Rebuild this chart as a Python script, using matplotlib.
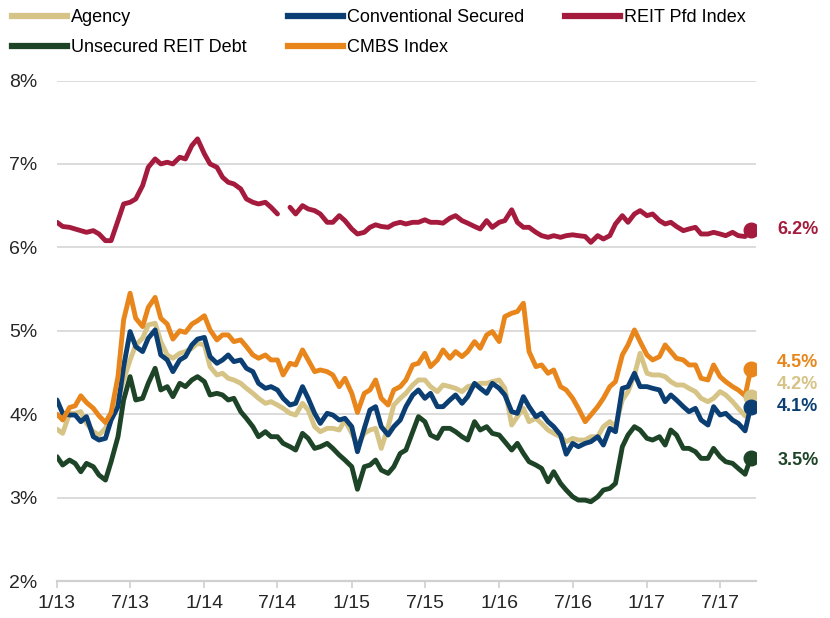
import matplotlib.pyplot as plt
import matplotlib.dates as mdates
from matplotlib.lines import Line2D
import numpy as np
import pandas as pd

plt.rcParams['font.family'] = ['Liberation Sans', 'DejaVu Sans']

# semi-monthly observations, 1/1/2013 .. 9/15/2017
dates = pd.date_range('2013-01-01', '2017-09-15', freq='SMS')

agency = [
    3.82, 3.77, 4.01, 4.01, 4.03, 3.89, 3.79, 3.75, 3.83, 4.01,
    4.17, 4.41, 4.65, 4.83, 4.91, 5.07, 5.09, 4.87, 4.71, 4.67,
    4.73, 4.75, 4.79, 4.85, 4.83, 4.57, 4.47, 4.49, 4.43, 4.41,
    4.37, 4.31, 4.25, 4.19, 4.13, 4.15, 4.11, 4.07, 4.01, 3.99,
    4.13, 4.05, 3.85, 3.79, 3.83, 3.83, 3.81, 3.93, 3.77, 3.63,
    3.77, 3.81, 3.83, 3.59, 3.85, 4.11, 4.19, 4.25, 4.35, 4.41,
    4.41, 4.33, 4.27, 4.35, 4.33, 4.31, 4.27, 4.33, 4.35, 4.37,
    4.37, 4.39, 4.41, 4.31, 3.87, 3.97, 4.07, 3.91, 3.95, 3.89,
    3.81, 3.77, 3.73, 3.67, 3.71, 3.69, 3.69, 3.73, 3.73, 3.85,
    3.91, 3.85, 4.17, 4.27, 4.47, 4.73, 4.49, 4.47, 4.47, 4.45,
    4.39, 4.35, 4.35, 4.31, 4.27, 4.19, 4.15, 4.19, 4.27, 4.23,
    4.15, 4.07, 3.98, 4.21,
]
conventional = [
    4.17, 4.01, 3.99, 3.99, 3.91, 3.97, 3.73, 3.69, 3.71, 3.93,
    4.09, 4.57, 4.99, 4.81, 4.75, 4.91, 5.01, 4.71, 4.65, 4.51,
    4.65, 4.69, 4.83, 4.90, 4.92, 4.69, 4.61, 4.65, 4.71, 4.63,
    4.65, 4.55, 4.51, 4.37, 4.31, 4.33, 4.29, 4.19, 4.11, 4.13,
    4.33, 4.19, 4.01, 3.89, 4.01, 3.99, 3.93, 3.95, 3.85, 3.55,
    3.83, 4.05, 4.09, 3.85, 3.75, 3.85, 3.93, 4.09, 4.23, 4.29,
    4.19, 4.25, 4.09, 4.09, 4.17, 4.23, 4.13, 4.21, 4.37, 4.31,
    4.25, 4.37, 4.31, 4.23, 4.03, 4.01, 4.21, 4.09, 3.97, 4.01,
    3.91, 3.85, 3.75, 3.52, 3.65, 3.61, 3.65, 3.67, 3.73, 3.63,
    3.83, 3.79, 4.31, 4.33, 4.49, 4.33, 4.33, 4.31, 4.29, 4.15,
    4.23, 4.17, 4.09, 4.03, 4.07, 3.93, 3.87, 4.09, 3.99, 4.01,
    3.93, 3.89, 3.80, 4.09,
]
reit_pfd = [
    6.30, 6.25, 6.24, 6.22, 6.20, 6.18, 6.20, 6.16, 6.08, 6.08,
    6.32, 6.52, 6.54, 6.58, 6.74, 6.96, 7.06, 7.00, 7.02, 7.00,
    7.08, 7.06, 7.22, 7.30, 7.12, 7.00, 6.96, 6.84, 6.78, 6.76,
    6.70, 6.58, 6.54, 6.52, 6.54, 6.48, 6.40, np.nan, 6.48, 6.40,
    6.50, 6.46, 6.44, 6.40, 6.30, 6.30, 6.38, 6.32, 6.22, 6.16,
    6.18, 6.24, 6.27, 6.25, 6.24, 6.28, 6.30, 6.28, 6.30, 6.30,
    6.33, 6.30, 6.30, 6.29, 6.35, 6.38, 6.32, 6.29, 6.25, 6.22,
    6.32, 6.24, 6.30, 6.32, 6.45, 6.30, 6.24, 6.24, 6.18, 6.14,
    6.12, 6.14, 6.12, 6.14, 6.15, 6.14, 6.13, 6.06, 6.14, 6.10,
    6.14, 6.28, 6.38, 6.30, 6.40, 6.44, 6.38, 6.40, 6.32, 6.28,
    6.30, 6.25, 6.20, 6.22, 6.24, 6.16, 6.16, 6.18, 6.16, 6.14,
    6.18, 6.14, 6.13, 6.21,
]
unsecured = [
    3.49, 3.39, 3.45, 3.41, 3.31, 3.41, 3.37, 3.27, 3.21, 3.43,
    3.73, 4.17, 4.45, 4.17, 4.19, 4.37, 4.55, 4.29, 4.33, 4.21,
    4.37, 4.33, 4.41, 4.45, 4.39, 4.23, 4.25, 4.23, 4.17, 4.19,
    4.03, 3.95, 3.85, 3.73, 3.79, 3.73, 3.73, 3.65, 3.61, 3.57,
    3.77, 3.71, 3.59, 3.61, 3.65, 3.59, 3.51, 3.45, 3.37, 3.10,
    3.37, 3.39, 3.45, 3.33, 3.29, 3.37, 3.53, 3.57, 3.79, 3.97,
    3.91, 3.75, 3.71, 3.83, 3.83, 3.79, 3.73, 3.69, 3.91, 3.81,
    3.85, 3.77, 3.75, 3.67, 3.57, 3.65, 3.53, 3.43, 3.39, 3.35,
    3.19, 3.31, 3.17, 3.09, 3.01, 2.97, 2.97, 2.95, 3.01, 3.09,
    3.11, 3.17, 3.61, 3.75, 3.85, 3.81, 3.71, 3.69, 3.73, 3.63,
    3.81, 3.75, 3.59, 3.59, 3.55, 3.47, 3.47, 3.59, 3.49, 3.43,
    3.41, 3.35, 3.28, 3.48,
]
cmbs = [
    4.00, 3.93, 4.08, 4.10, 4.22, 4.14, 4.07, 3.98, 3.90, 4.02,
    4.45, 5.13, 5.45, 5.15, 5.05, 5.28, 5.40, 5.15, 5.08, 4.90,
    5.00, 4.98, 5.08, 5.12, 5.18, 5.01, 4.89, 4.95, 4.95, 4.87,
    4.89, 4.81, 4.71, 4.67, 4.71, 4.65, 4.65, 4.47, 4.61, 4.59,
    4.77, 4.65, 4.51, 4.53, 4.51, 4.47, 4.33, 4.43, 4.25, 4.02,
    4.25, 4.29, 4.41, 4.19, 4.11, 4.29, 4.33, 4.41, 4.59, 4.61,
    4.73, 4.57, 4.65, 4.77, 4.67, 4.75, 4.69, 4.75, 4.87, 4.79,
    4.95, 4.99, 4.87, 5.17, 5.21, 5.23, 5.33, 4.75, 4.57, 4.59,
    4.49, 4.53, 4.33, 4.29, 4.19, 4.07, 3.91, 3.99, 4.09, 4.19,
    4.33, 4.39, 4.71, 4.83, 5.01, 4.87, 4.71, 4.65, 4.69, 4.83,
    4.75, 4.67, 4.65, 4.59, 4.59, 4.43, 4.41, 4.59, 4.45, 4.39,
    4.33, 4.29, 4.22, 4.54,
]

series = [
    ("Agency", agency, "#D6C386", 9),
    ("Conventional Secured", conventional, "#0B3F73", 0),
    ("REIT Pfd Index", reit_pfd, "#A51B3D", 0),
    ("Unsecured REIT Debt", unsecured, "#1E4427", -2),
    ("CMBS Index", cmbs, "#E8861C", 5),
]
yticks = [2, 3, 4, 5, 6, 7, 8]
xtick_dates = pd.date_range('2013-01-01', '2017-07-01', freq='6MS')
xtick_labels = [f"{d.month}/{d.strftime('%y')}" for d in xtick_dates]

fig = plt.figure(figsize=(8.3, 6.18), dpi=100)
fig.patch.set_facecolor('white')
ax = fig.add_axes([57 / 830, 1 - 581 / 618, (756 - 57) / 830, (581 - 80.5) / 618])

lines = {}
for name, vals, color, dy in series:
    ln, = ax.plot(dates, vals, color=color, lw=3.5, solid_capstyle='round',
                  solid_joinstyle='round', label=name, zorder=3)
    lines[name] = ln
    last = vals[-1]
    ax.plot(dates[-1], last, 'o', color=color, ms=10.5, zorder=4)
    ax.annotate(f"{last:.1f}%", xy=(dates[-1], last), xytext=(19, dy),
                textcoords='offset points', va='center', ha='left',
                color=color, fontsize=13, fontweight='bold', annotation_clip=False)

ax.set_ylim(2, 8)
ax.set_yticks(yticks)
ax.set_yticklabels([f"{v}%" for v in yticks])
ax.set_xlim(pd.Timestamp('2013-01-01'), pd.Timestamp('2017-09-28'))
ax.set_xticks(xtick_dates)
ax.set_xticklabels(xtick_labels)

ax.yaxis.grid(True, color='#d9d9d9', lw=1.3, zorder=0)
ax.set_axisbelow(True)
for s in ['top', 'right', 'left']:
    ax.spines[s].set_visible(False)
ax.spines['bottom'].set_color('#d0d0d0')
ax.spines['bottom'].set_linewidth(1.6)
ax.tick_params(axis='y', length=0, pad=14, labelsize=14, labelcolor='#262626')
ax.tick_params(axis='x', length=5, width=1.2, color='#d0d0d0', direction='out',
               pad=5, labelsize=14, labelcolor='#262626')

# legend: column-major order
order = ["Agency", "Unsecured REIT Debt", "Conventional Secured", "CMBS Index", "REIT Pfd Index"]
handles = [Line2D([], [], color=lines[n].get_color(), lw=4.5) for n in order]
fig.legend(handles, order, loc='upper left', bbox_to_anchor=(12 / 830, 1 - 9 / 618),
           ncol=3, frameon=False, fontsize=13, handlelength=3.05, handletextpad=0.2,
           columnspacing=2.3, labelspacing=0.72, borderpad=0, borderaxespad=0)

fig.savefig('out.png', dpi=100, facecolor='white')
